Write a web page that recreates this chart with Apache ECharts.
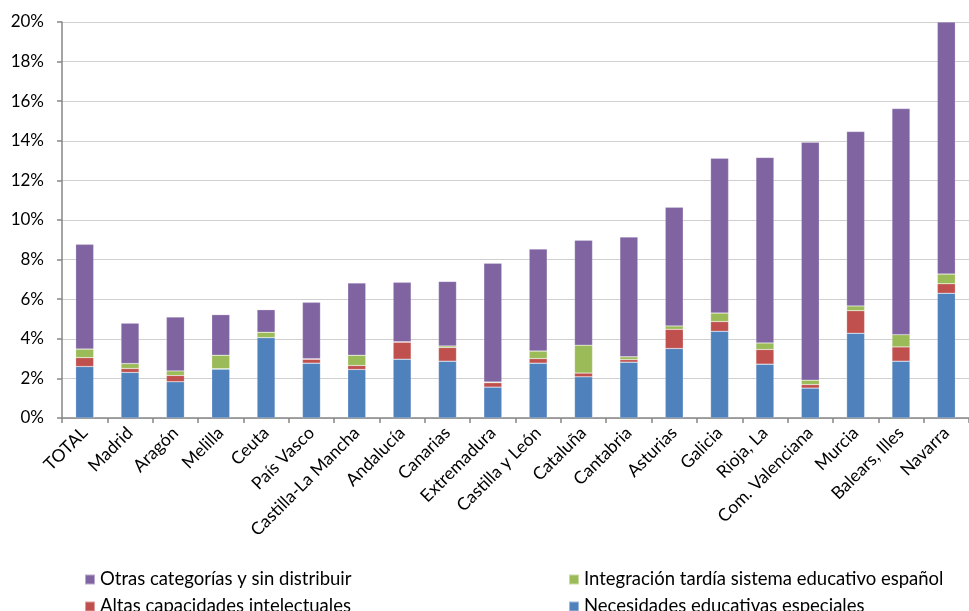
<!DOCTYPE html>
<html>
<head>
<meta charset="utf-8">
<script src="https://cdn.jsdelivr.net/npm/echarts@6/dist/echarts.min.js"></script>
<style>
html,body{margin:0;padding:0;background:#fff;}
#chart{width:969px;height:611px;}
</style>
</head>
<body>
<div id="chart"></div>
<script>
const categories = ['TOTAL','Madrid','Aragón','Melilla','Ceuta','País Vasco','Castilla-La Mancha','Andalucía','Canarias','Extremadura','Castilla y León','Cataluña','Cantabria','Asturias','Galicia','Rioja, La','Com. Valenciana','Murcia','Balears, Illes','Navarra'];
const necesidades = [2.60,2.30,1.83,2.47,4.06,2.77,2.45,2.97,2.87,1.56,2.77,2.08,2.82,3.51,4.38,2.72,1.51,4.28,2.87,6.30];
const altas = [0.45,0.20,0.32,0.02,0.00,0.20,0.20,0.86,0.69,0.22,0.23,0.19,0.13,0.97,0.49,0.74,0.18,1.14,0.72,0.48];
const integracion = [0.43,0.25,0.23,0.68,0.27,0.02,0.52,0.02,0.08,0.04,0.38,1.41,0.14,0.17,0.43,0.33,0.22,0.24,0.62,0.49];
const otras = [5.29,2.04,2.72,2.05,1.14,2.85,3.65,3.00,3.26,6.00,5.15,5.30,6.05,6.00,7.82,9.37,12.02,8.81,11.42,12.73];
const yTicks = {min:0, max:20, interval:2};

const FONT = 'Lato';
const chart = echarts.init(document.getElementById('chart'));
function bar(name, data, color){
  return {name, type:'bar', stack:'t', data, barWidth:18,
    itemStyle:{color, borderColor:'rgba(255,255,255,0.45)', borderWidth:0.5}};
}
const legendText = {fontFamily:FONT, fontSize:18.5, color:'#000'};
function leg(name, left, top){
  return {left, top, itemWidth:10, itemHeight:10, itemGap:5, icon:'rect',
    textStyle:legendText, data:[name], selectedMode:false};
}
chart.setOption({
  animation:false,
  textStyle:{fontFamily:FONT},
  grid:{left:62, top:22, width:918, height:396, containLabel:false},
  legend:[
    leg('Otras categorías y sin distribuir', 79, 565),
    leg('Altas capacidades intelectuales', 79, 592),
    leg('Integración tardía sistema educativo español', 563, 565),
    leg('Necesidades educativas especiales', 563, 592)
  ],
  xAxis:{type:'category', data:categories,
    axisLine:{lineStyle:{color:'#868686', width:1.5}},
    axisTick:{show:true, interval:0, length:5, lineStyle:{color:'#868686', width:1.5}},
    axisLabel:{interval:0, rotate:45, fontFamily:FONT, fontSize:17.5, color:'#000', margin:12}},
  yAxis:{type:'value', min:yTicks.min, max:yTicks.max, interval:yTicks.interval,
    axisLine:{show:true, lineStyle:{color:'#868686', width:1.5}},
    axisTick:{show:true, length:5, lineStyle:{color:'#868686', width:1.5}},
    splitLine:{lineStyle:{color:'#D0D0D0', width:1.2}},
    axisLabel:{formatter:'{value}%', fontFamily:FONT, fontSize:17, color:'#000', margin:18}},
  series:[
    bar('Necesidades educativas especiales', necesidades, '#4F81BD'),
    bar('Altas capacidades intelectuales', altas, '#C0504D'),
    bar('Integración tardía sistema educativo español', integracion, '#9BBB59'),
    bar('Otras categorías y sin distribuir', otras, '#8064A2')
  ]
});
</script>
</body>
</html>
